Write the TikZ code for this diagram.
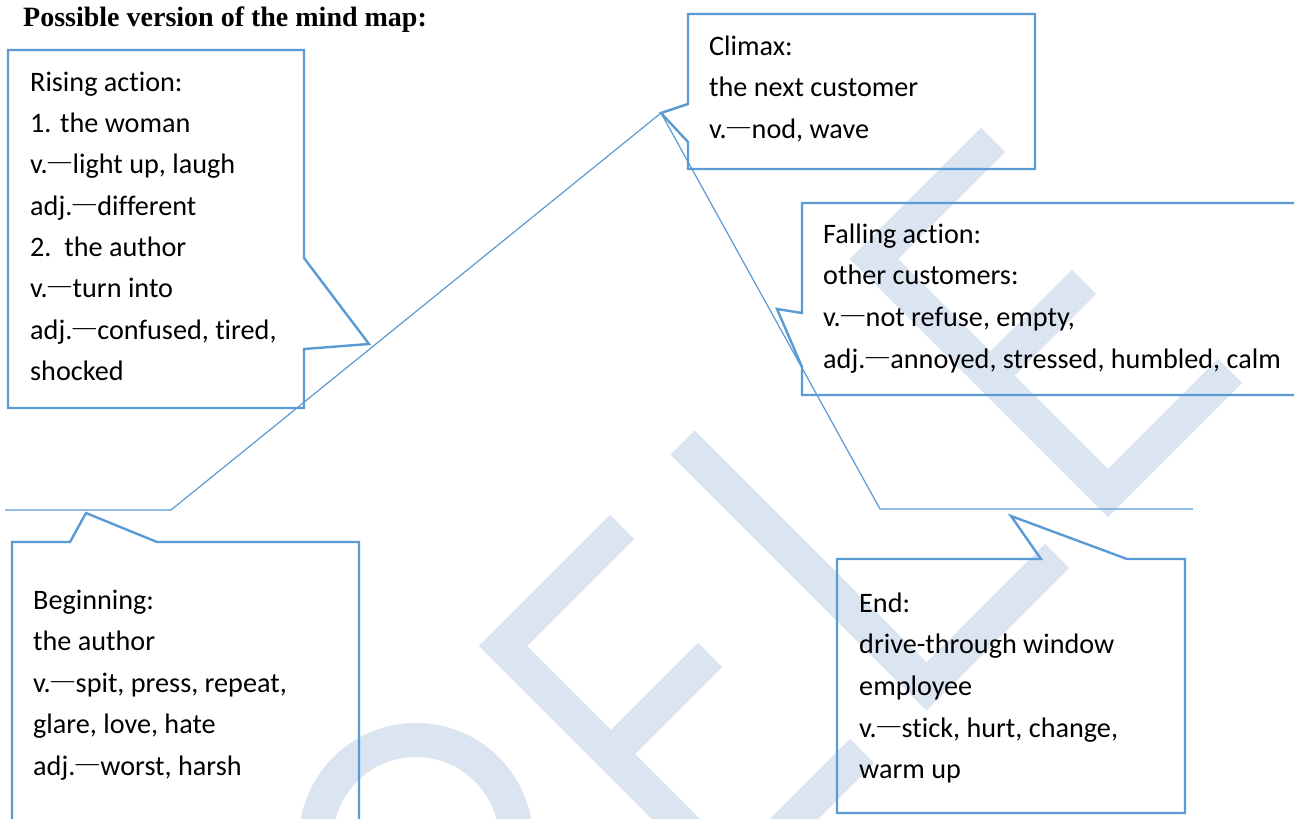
\documentclass[tikz,border=0pt]{standalone}
\usepackage{fontspec}
\setmainfont{Carlito}[Ligatures=NoCommon]
\newfontfamily\titlefont{Liberation Serif}
\definecolor{boxblue}{HTML}{5B9BD5}
\definecolor{wmblue}{HTML}{DBE4F1}
\newcommand\ldash{\hspace{0.5pt}{\titlefont\fontsize{23}{30}\selectfont\raisebox{5pt}{—}}\hspace{1.5pt}}
\tikzset{
  wm/.style={draw=wmblue, line width=34pt, line cap=butt, line join=miter},
  callout/.style={draw=boxblue, line width=2.4pt, line join=miter},
  link/.style={draw=boxblue, line width=1.2pt},
  txt/.style={anchor=base west, inner sep=0pt, font=\fontsize{28.2}{34}\selectfont},
}
\begin{document}
\begin{tikzpicture}[x=1pt,y=-1pt]
\useasboundingbox (0,0) rectangle (1294,819);
\clip (0,0) rectangle (1294,819);
\fill[white] (0,0) rectangle (1294,819);
% watermark
\draw[wm] (416,840) circle[radius=100pt];
\draw[wm] (622,527) -- (503,646) -- (735,878) -- (862,751);
\draw[wm] (611,754) -- (710,655);
\draw[wm] (682.5,442.5) -- (926.5,686.5) -- (1057,556);
\draw[wm] (993,140) -- (874,259) -- (1108,493) -- (1230,371);
\draw[wm] (990.5,375.5) -- (1084,282);
% title
\node[anchor=base west, inner sep=0pt, font=\titlefont\bfseries\fontsize{28}{34}\selectfont] (title) at (23,26) {Possible version of the mind map:};
% connectors
\coordinate (ctip) at (661,113);
\coordinate (lend) at (5,510);
\coordinate (lbend) at (171,510);
\coordinate (rbend) at (880,509);
\coordinate (rend) at (1193,509);
\draw[link] (lend) -- (lbend) -- (ctip);
\draw[link] (ctip) -- (rbend) -- (rend);
% callouts
\draw[callout] (8,50) -- (304,50) -- (304,258) -- (369,344) -- (304,349) -- (304,408) -- (8,408) -- cycle;
\draw[callout] (688,14) -- (1035,14) -- (1035,169) -- (688,169) -- (688,142) -- (ctip) -- (688,104) -- cycle;
\draw[callout] (802,203) -- (1300,203) -- (1300,395) -- (802,395) -- (802,367) -- (777,309) -- (802,313) -- cycle;
\draw[callout] (837,559) -- (1041,559) -- (1011,516) -- (1127,559) -- (1185,559) -- (1185,813) -- (837,813) -- cycle;
\draw[callout] (12,542) -- (70,542) -- (86,513) -- (157,542) -- (359,542) -- (359,830) -- (12,830) -- cycle;
% texts
\foreach \t [count=\i] in {Rising action:, 1. the woman, {v.\ldash light up, laugh}, adj.\ldash different, 2.\ \ the author, v.\ldash turn into, {adj.\ldash confused, tired,}, shocked}
  \node[txt] (rise\i) at (30,{91+41.35*(\i-1)}) {\t};
\foreach \t [count=\i] in {Climax:, the next customer, {v.\ldash nod, wave}}
  \node[txt] (clim\i) at (709,{55+41.5*(\i-1)}) {\t};
\foreach \t [count=\i] in {Falling action:, other customers:, {v.\ldash not refuse, empty,}, {adj.\ldash annoyed, stressed, humbled, calm}}
  \node[txt] (fall\i) at (823,{243+41.7*(\i-1)}) {\t};
\foreach \t [count=\i] in {Beginning:, the author, {v.\ldash spit, press, repeat,}, {glare, love, hate}, {adj.\ldash worst, harsh}}
  \node[txt] (beg\i) at (33,{609+41.5*(\i-1)}) {\t};
\foreach \t [count=\i] in {End:, drive-through window, employee, {v.\ldash stick, hurt, change,}, warm up}
  \node[txt] (end\i) at (859,{612+41.7*(\i-1)}) {\t};
\end{tikzpicture}
\end{document}
